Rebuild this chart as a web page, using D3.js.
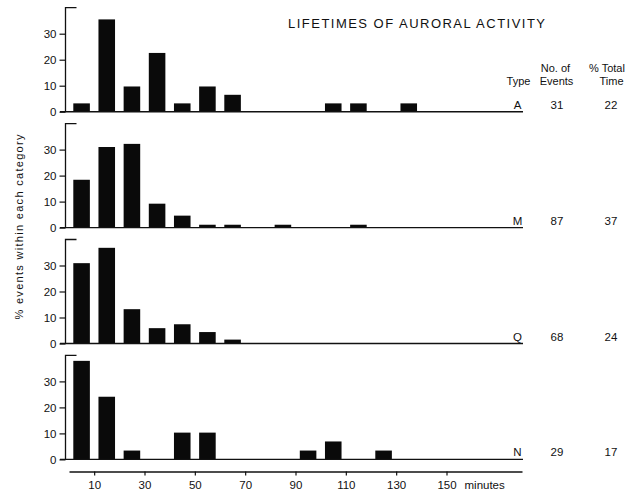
<!DOCTYPE html>
<html>
<head>
<meta charset="utf-8">
<script src="https://cdn.jsdelivr.net/npm/d3@7"></script>
<style>
  html, body { margin: 0; padding: 0; background: #fff; }
  svg { display: block; }
  text { font-family: "Liberation Sans", Arial, Helvetica, sans-serif; fill: #111; }
</style>
</head>
<body>
<svg id="chart" width="644" height="491"></svg>
<script>
// Lifetime bins (start of each 10-minute class)
const binStarts = [0, 10, 20, 30, 40, 50, 60, 70, 80, 90, 100, 110, 120, 130, 140, 150, 160, 170];

// Percentage of events falling in each lifetime class, per activity type
const typeA = [3.2, 35.5, 9.7, 22.6, 3.2, 9.7, 6.5, 0, 0, 0, 3.2, 3.2, 0, 3.2, 0, 0, 0, 0];
const typeM = [18.4, 31.0, 32.2, 9.2, 4.6, 1.1, 1.1, 0, 1.1, 0, 0, 1.1, 0, 0, 0, 0, 0, 0];
const typeQ = [30.9, 36.8, 13.2, 5.9, 7.4, 4.4, 1.5, 0, 0, 0, 0, 0, 0, 0, 0, 0, 0, 0];
const typeN = [37.9, 24.1, 3.4, 0, 10.3, 10.3, 0, 0, 0, 3.4, 6.9, 0, 3.4, 0, 0, 0, 0, 0];

const typeLabels = ["A", "M", "Q", "N"];
const eventCounts = [31, 87, 68, 29];
const totalTime = [22, 37, 24, 17];

const yTicks = [0, 10, 20, 30];
const xTicks = [10, 30, 50, 70, 90, 110, 130, 150];

const series = [typeA, typeM, typeQ, typeN];

const svg = d3.select("#chart");

// Shared minute scale
const x = d3.scaleLinear().domain([0, 180]).range([69, 522]);
const binW = x(10) - x(0);
const inset = 4.3;

const panelH = 104;
const baselines = [111.7, 227.6, 343.5, 459.4];
const axisX = 65.5;

series.forEach((vals, i) => {
  const base = baselines[i];
  const y = d3.scaleLinear().domain([0, 40]).range([base, base - panelH]);
  const g = svg.append("g");

  // bars
  g.selectAll("rect")
    .data(binStarts.map((b, k) => ({ b, v: vals[k] })).filter(d => d.v > 0))
    .join("rect")
    .attr("x", d => x(d.b) + inset)
    .attr("width", binW - 2 * inset)
    .attr("y", d => y(d.v))
    .attr("height", d => y(0) - y(d.v))
    .attr("fill", "#0a0a0a");

  // left axis with ticks
  const ax = g.append("g")
    .attr("transform", `translate(${axisX},0)`)
    .call(d3.axisLeft(y).tickValues(yTicks).tickSize(6).tickPadding(3).tickFormat(d3.format("d")));
  ax.select(".domain").remove();
  ax.selectAll(".tick line").attr("stroke", "#111").attr("stroke-width", 1.2);
  ax.selectAll(".tick text").style("font-size", "11.5px").attr("fill", "#111");

  // vertical spine with a short cap at the top
  g.append("path")
    .attr("d", `M${axisX + 11},${y(40)} H${axisX} V${y(0)}`)
    .attr("fill", "none").attr("stroke", "#111").attr("stroke-width", 1.3);

  // baseline running under the type label
  g.append("line")
    .attr("x1", 60).attr("x2", 523)
    .attr("y1", y(0)).attr("y2", y(0))
    .attr("stroke", "#111").attr("stroke-width", 1.4);

  // table entries
  g.append("text").attr("x", 517.5).attr("y", base - 3)
    .attr("text-anchor", "middle").style("font-size", "11.5px").text(typeLabels[i]);
  g.append("text").attr("x", 557).attr("y", base - 3)
    .attr("text-anchor", "middle").style("font-size", "11.5px").text(eventCounts[i]);
  g.append("text").attr("x", 611).attr("y", base - 3)
    .attr("text-anchor", "middle").style("font-size", "11.5px").text(totalTime[i]);
});

// bottom minute axis
const xa = svg.append("g")
  .attr("transform", "translate(0,471.5)")
  .call(d3.axisBottom(x).tickValues(xTicks).tickSize(4).tickSizeOuter(0).tickPadding(5).tickFormat(d3.format("d")));
xa.select(".domain").attr("stroke", "#111").attr("stroke-width", 1.3);
xa.selectAll(".tick line").attr("stroke", "#111").attr("stroke-width", 1.2);
xa.selectAll(".tick text").style("font-size", "11.5px").attr("fill", "#111");

svg.append("text")
  .attr("x", x(150) + 18).attr("y", 488.5)
  .style("font-size", "11.5px").text("minutes");

// title
svg.append("text")
  .attr("x", 288).attr("y", 27.5)
  .attr("textLength", 257).attr("lengthAdjust", "spacing")
  .style("font-size", "13px").text("LIFETIMES OF AURORAL ACTIVITY");

// table headers
const hdr = [
  { t: "Type", x: 518.5, y: 85 },
  { t: "No. of", x: 555.5, y: 72 },
  { t: "Events", x: 556.5, y: 85 },
  { t: "% Total", x: 607, y: 72 },
  { t: "Time", x: 611.5, y: 85 }
];
svg.selectAll("text.hdr").data(hdr).join("text")
  .attr("class", "hdr")
  .attr("x", d => d.x).attr("y", d => d.y)
  .attr("text-anchor", "middle")
  .style("font-size", "11px")
  .text(d => d.t);

// y-axis title
svg.append("text")
  .attr("transform", "translate(23,227) rotate(-90)")
  .attr("text-anchor", "middle")
  .attr("textLength", 185).attr("lengthAdjust", "spacing")
  .style("font-size", "11px")
  .text("% events within each category");
</script>
</body>
</html>
